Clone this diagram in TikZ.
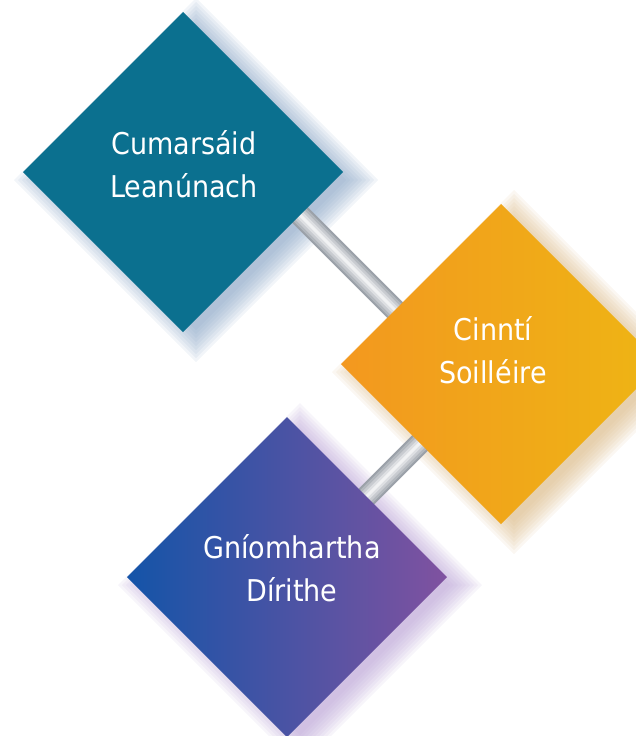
\documentclass[tikz,border=0pt]{standalone}
\usepackage{fontspec}
\setmainfont{DejaVu Sans Condensed}
\usetikzlibrary{shapes.geometric}
\definecolor{tealbox}{HTML}{0B708F}
\definecolor{orangeL}{HTML}{F3981F}
\definecolor{orangeR}{HTML}{EEB514}
\definecolor{purpleL}{HTML}{1454A8}
\definecolor{purpleM}{HTML}{7352A0}
\definecolor{purpleR}{HTML}{8052A0}
\definecolor{shteal}{HTML}{7F9DC0}
\definecolor{shorange}{HTML}{D7B37C}
\definecolor{shpurple}{HTML}{B49BD2}
\definecolor{rodA}{HTML}{9BA1A9}
\definecolor{rodB}{HTML}{B2B7BD}
\definecolor{rodC}{HTML}{C8CBD0}
\definecolor{rodD}{HTML}{DDDFE2}
\definecolor{rodE}{HTML}{F1F2F3}
\tikzset{
  box/.style={diamond, minimum width=320pt, minimum height=320pt, inner sep=0pt, outer sep=0pt},
  boxtext/.style={text=white, align=center, font=\fontsize{30}{43}\selectfont},
}
\begin{document}
\begin{tikzpicture}[x=1pt,y=-1pt]
    \useasboundingbox (0,0) rectangle (636,736);
    \coordinate (c1) at (183,172);
    \coordinate (c2) at (501,364);
    \coordinate (c3) at (287,577);
    \foreach \r in {150,154,...,182}
    {
      \fill[shteal, opacity=0.1] ([shift={(13,8)}]c1) +(0,-\r) -- +(\r,0) -- +(0,\r) -- +(-\r,0) -- cycle;
      \fill[shorange, opacity=0.1] ([shift={(13,8)}]c2) +(0,-\r) -- +(\r,0) -- +(0,\r) -- +(-\r,0) -- cycle;
      \fill[shpurple, opacity=0.1] ([shift={(13,8)}]c3) +(0,-\r) -- +(\r,0) -- +(0,\r) -- +(-\r,0) -- cycle;
    }
    \coordinate (r1a) at (290,205);
    \coordinate (r1b) at (420,335);
    \coordinate (r2a) at (440,423);
    \coordinate (r2b) at (350,513);
    \foreach \w/\c in {22/rodA, 18/rodB, 13/rodC, 8/rodD, 3/rodE}
    {
      \draw[line width=\w pt, \c] (r1a) -- (r1b);
      \draw[line width=\w pt, \c] (r2a) -- (r2b);
    }
    \node[box, fill=tealbox] (teal) at (c1) {};
    \node[box, left color=orangeL, right color=orangeR] (orange) at (c2) {};
    \node[box, left color=purpleL, middle color=purpleM, right color=purpleR] (purple) at (c3) {};
    \node[boxtext] (teallabel) at (184,164) {Cumarsáid\\Leanúnach};
    \node[boxtext] (orangelabel) at (493,350) {Cinntí\\Soilléire};
    \node[boxtext] (purplelabel) at (292,568) {Gníomhartha\\Dírithe};
\end{tikzpicture}
\end{document}
